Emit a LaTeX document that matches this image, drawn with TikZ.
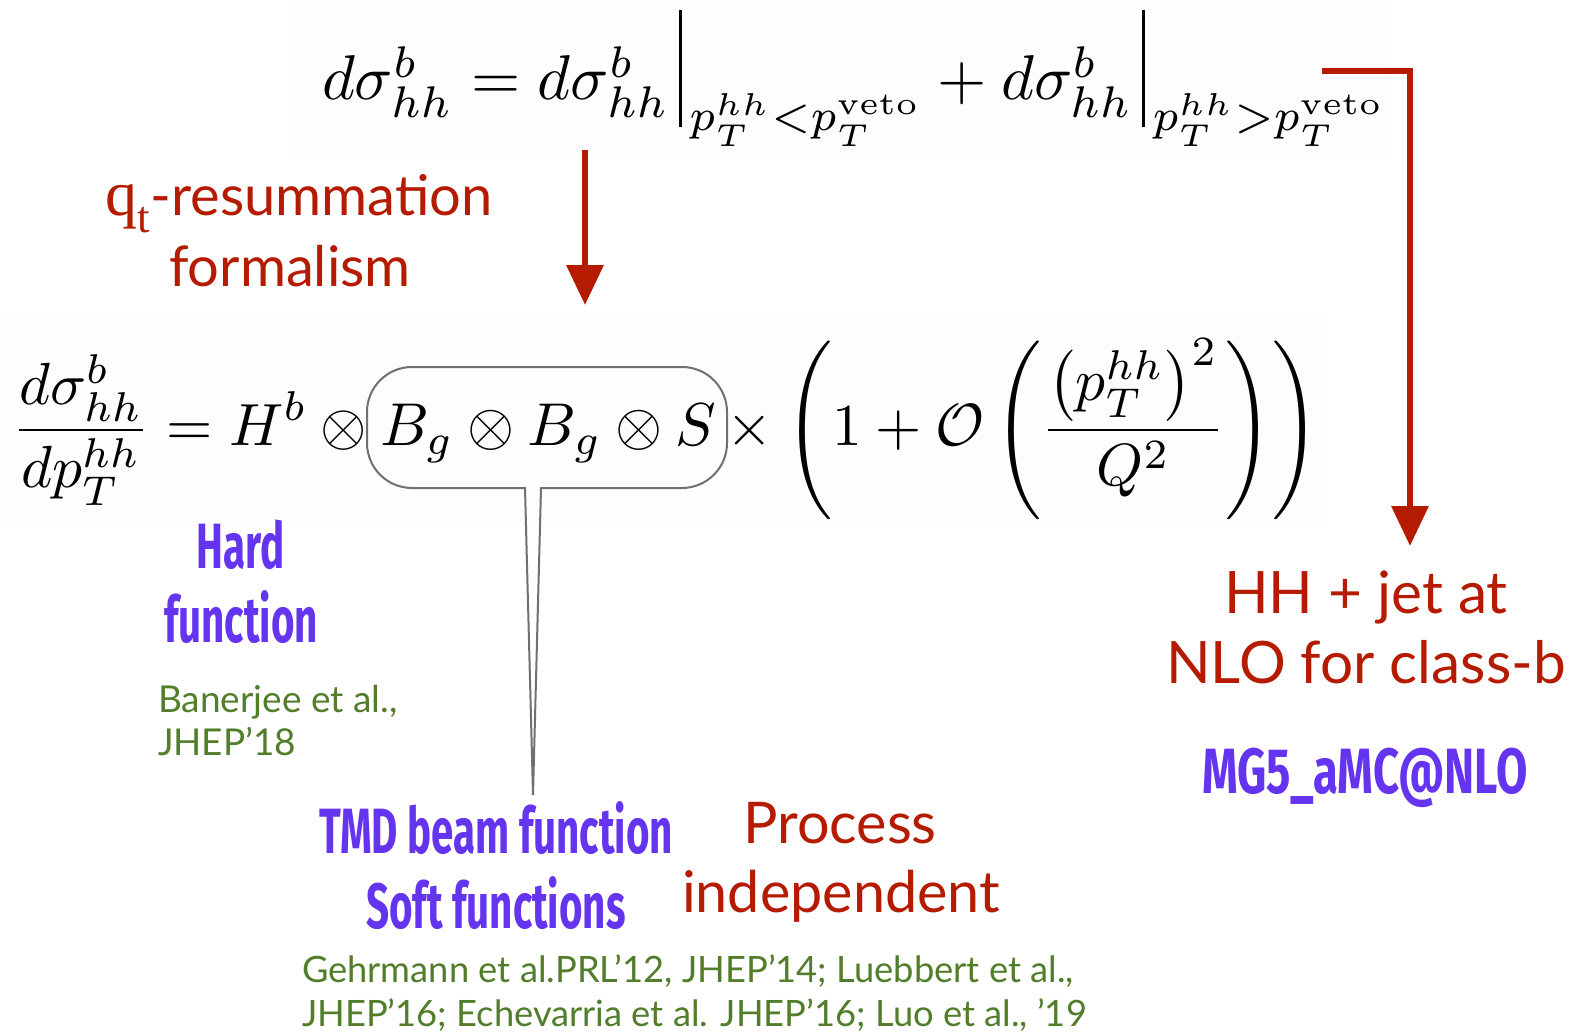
\documentclass[tikz,border=0pt]{standalone}
\usepackage{fontspec}
\usepackage{graphicx}
\usetikzlibrary{arrows.meta}
\newfontfamily\gill{Lato}
\newfontfamily\gillserif{Liberation Serif}
\newfontfamily\cond[FakeStretch=0.63]{Fira Sans}
\newfontfamily\condw[FakeStretch=0.71]{Fira Sans}
\newcommand\evalbar{\mathord{\kern1.5pt\rule[-4.3pt]{0.45pt}{18.5pt}\kern1.2pt}}
\definecolor{myred}{RGB}{180,27,0}
\definecolor{mypurple}{RGB}{100,52,238}
\definecolor{mygreen}{RGB}{82,125,42}
\definecolor{boxgray}{RGB}{112,112,112}
\definecolor{bgfill}{RGB}{253,253,253}
\tikzset{
  redtxt/.style={text=myred, font=\gill\fontsize{56}{60}\selectfont},
  hhtxt/.style={text=myred, font=\gill\fontsize{58.5}{60}\selectfont},
  bigred/.style={text=myred, font=\gill\fontsize{57.5}{66}\selectfont},
  purtxt/.style={text=mypurple, font=\cond\bfseries\fontsize{64}{70}\selectfont},
  purwide/.style={text=mypurple, font=\condw\bfseries\fontsize{64}{70}\selectfont},
  grntxt/.style={text=mygreen, font=\gill\fontsize{37}{44}\selectfont},
  grnsmall/.style={text=mygreen, font=\gill\fontsize{36.3}{44}\selectfont},
  redarrow/.style={draw=myred, line width=6.5pt, line join=miter,
    -{Triangle[length=40pt,width=36pt]}},
  boxline/.style={draw=boxgray, line width=2pt},
  eq/.style={anchor=base west}
}
\begin{document}
\begin{tikzpicture}[x=1pt,y=-1pt, every node/.style={inner sep=0pt, outer sep=0pt}]
\useasboundingbox (0,0) rectangle (1569,1035);
\fill[white] (0,0) rectangle (1569,1035);
\fill[bgfill] (290,0) rectangle (1390,157);
\fill[bgfill] (0,313) rectangle (1322,528);

% top equation
\node[eq] (topeq) at (322,100) {\scalebox{6.33}{$d\sigma^b_{hh} = d\sigma^b_{hh}\evalbar_{p_T^{hh}<p_T^{\mathrm{veto}}} + d\sigma^b_{hh}\evalbar_{p_T^{hh}>p_T^{\mathrm{veto}}}$}};

% second equation
\node[eq] (eqL) at (12,445) {\scalebox{5.95}{$\displaystyle\frac{d\sigma^b_{hh}}{dp_T^{hh}} = H^b \otimes {}$}};
\node[eq] (eqM) at (380,445) {\scalebox{6.05}{$B_g\otimes B_g\otimes S$}};
\node[eq] (eqR) at (713,445) {\scalebox{5.95}{$\displaystyle {}\times\left(1+\mathcal{O}\left(\frac{\left(p_T^{hh}\right)^2}{Q^2}\right)\right)$}};

% callout box around B_g x B_g x S
\draw[boxline] (533,795) -- (541,488) [rounded corners=45pt] -- (727,488) -- (727,367) -- (367,367) -- (367,488) [sharp corners] -- (525,488) -- cycle;

% arrows
\coordinate (a1s) at (585,150);
\coordinate (a1e) at (585,305);
\draw[redarrow] (a1s) -- (a1e);
\coordinate (a2s) at (1322,71);
\coordinate (a2e) at (1410,546);
\draw[redarrow] (a2s) -| (a2e);

% red labels
\node[redtxt, anchor=base] (qt1) at (299,216) {{\gillserif\fontsize{64}{60}\selectfont q\textsubscript{t}}-resummation};
\node[redtxt, anchor=base] (qt2) at (290,287) {formalism};
\node[bigred, anchor=base] (pi1) at (840,843) {Process};
\node[bigred, anchor=base] (pi2) at (841,912) {independent};
\node[hhtxt, anchor=base] (hh1) at (1366,613) {HH + jet at};
\node[hhtxt, anchor=base] (hh2) at (1366,683) {NLO for class-b};

% purple labels
\node[purtxt, anchor=base] (hf1) at (241,568) {Hard};
\node[purtxt, anchor=base] (hf2) at (241,642) {function};
\node[purtxt, anchor=base] (tmd1) at (496,853) {TMD beam function};
\node[purtxt, anchor=base] (tmd2) at (496,928) {Soft functions};
\node[purwide, anchor=base] (mg) at (1365,793) {MG5\_aMC@NLO};

% green references
\node[grntxt, anchor=base west] (ref1) at (158,712) {Banerjee et al.,};
\node[grntxt, anchor=base west] (ref2) at (158,755) {JHEP’18};
\node[grnsmall, anchor=base west] (ref3) at (302,982) {Gehrmann et al.PRL’12, JHEP’14; Luebbert et al.,};
\node[grnsmall, anchor=base west] (ref4) at (302,1026) {JHEP’16; Echevarria et al. JHEP’16; Luo et al., ’19};
\end{tikzpicture}
\end{document}
